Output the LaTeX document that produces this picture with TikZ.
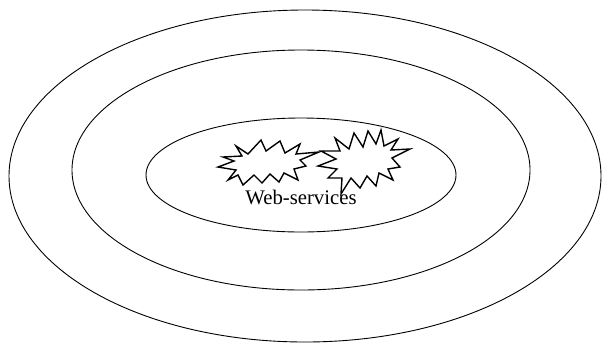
\documentclass[tikz,border=0pt]{standalone}
\usepackage{fontspec}
\setmainfont{Liberation Serif}
\usepackage{tikz}
\usetikzlibrary{
	positioning
}

\begin{document}
\begin{tikzpicture}[x=1bp, y=-1bp,
		ring/.style={line width=0.9pt},
		burst/.style={line width=1.4pt, line join=miter}]
		\useasboundingbox (0,0) rectangle (602,343);
		
		% 三层椭圆
		\draw[ring] (305,176) ellipse [x radius=296, y radius=166];
		\draw[ring] (301,170) ellipse [x radius=229, y radius=120];
		\draw[ring] (301,175) ellipse [x radius=155, y radius=57];
		
		% 文字
		\node[font=\fontsize{20.8}{24}\selectfont, inner sep=0pt] (ws) at (301,197) {Web-services};
		
		% 左边的爆炸形
		\draw[burst] (236,146) -- (248,154) -- (261,140) -- (266,151) -- (280,141) -- (285,153)
			-- (300,144) -- (296,154) -- (319,152) -- (300,160) -- (306,166) -- (294,169)
			-- (298,180) -- (284,173) -- (279,182) -- (270,174) -- (262,183) -- (254,175)
			-- (243,185) -- (238,175) -- (228,180) -- (236,170) -- (218,167) -- (234,161)
			-- (223,157) -- (242,156) -- cycle;
		
		% 右边的爆炸形
		\draw[burst] (335,138) -- (349,149) -- (354,133) -- (363,147) -- (368,131) -- (376,144)
			-- (381,130) -- (384,146) -- (398,139) -- (391,150) -- (410,149) -- (392,158)
			-- (400,167) -- (388,169) -- (393,180) -- (379,173) -- (376,186) -- (367,176)
			-- (360,188) -- (351,178) -- (341,194) -- (342,178) -- (328,178) -- (337,169)
			-- (318,166) -- (336,159) -- (321,151) -- (340,151) -- cycle;
	\end{tikzpicture}
\end{document}
